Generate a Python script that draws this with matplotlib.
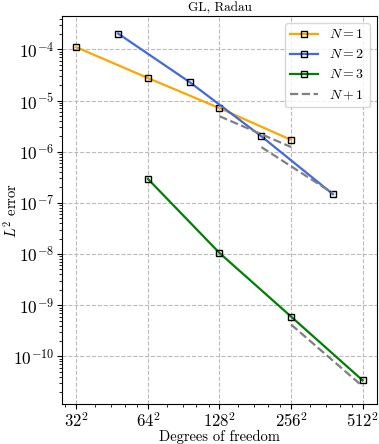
import matplotlib
matplotlib.use("Agg")
import matplotlib.pyplot as plt
from matplotlib.ticker import FixedLocator, LogLocator, NullFormatter

plt.rcParams['font.family'] = 'serif'
plt.rcParams['font.serif'] = ['cmr10', 'DejaVu Serif']
plt.rcParams['mathtext.fontset'] = 'cm'
plt.rcParams['axes.unicode_minus'] = False
plt.rcParams['axes.formatter.use_mathtext'] = True

# Data (x = sqrt of degrees of freedom)
n1_x = [32, 64, 128, 256]
n1_err = [1.1e-4, 2.75e-5, 7.1e-6, 1.7e-6]
n2_x = [48, 96, 192, 384]
n2_err = [2.03e-4, 2.28e-5, 2.0e-6, 1.48e-7]
n3_x = [64, 128, 256, 512]
n3_err = [2.94e-7, 1.05e-8, 6.0e-10, 3.4e-11]

# N+1 reference slopes
ref1_x = [128, 256]
ref1_y = [4.94e-6, 1.235e-6]
ref2_x = [192, 384]
ref2_y = [1.23e-6, 1.54e-7]
ref3_x = [256, 512]
ref3_y = [4.2e-10, 2.6e-11]

xticks = [32, 64, 128, 256, 512]
xticklabels = ['$32^2$', '$64^2$', '$128^2$', '$256^2$', '$512^2$']

fig = plt.figure(figsize=(3.79, 4.44), dpi=100)
ax = fig.add_axes([0.1636, 0.0901, 0.8311, 0.8739])

mk = dict(marker='s', markersize=5, mfc='none', mec='k', mew=1.0, lw=1.6)
ax.plot(n1_x, n1_err, color='orange', label='$N=1$', **mk)
ax.plot(n2_x, n2_err, color='royalblue', label='$N=2$', **mk)
ax.plot(n3_x, n3_err, color='green', label='$N=3$', **mk)
ax.plot(ref1_x, ref1_y, '--', color='gray', lw=1.6, label='$N+1$')
ax.plot(ref2_x, ref2_y, '--', color='gray', lw=1.6)
ax.plot(ref3_x, ref3_y, '--', color='gray', lw=1.6)

ax.set_xscale('log', base=2)
ax.set_yscale('log')
ax.xaxis.set_major_locator(FixedLocator(xticks))
ax.set_xticklabels(xticklabels)
ax.xaxis.set_minor_locator(LogLocator(base=2, subs=[1.2, 1.4, 1.6, 1.8]))
ax.xaxis.set_minor_formatter(NullFormatter())

ax.tick_params(axis='y', which='major', labelsize=12.5, pad=2)
ax.tick_params(axis='x', which='major', labelsize=12, pad=2)
ax.grid(True, which='major', linestyle='--', color='#bbbbbb', lw=0.8)
ax.set_axisbelow(True)

ax.set_title('GL, Radau', fontsize=9.5, pad=3)
ax.set_xlabel('Degrees of freedom', fontsize=10.5)
ax.set_ylabel('$L^2$ error', fontsize=10.5)
ax.xaxis.set_label_coords(0.5, -0.066)
ax.yaxis.set_label_coords(-0.135, 0.5)
ax.legend(loc='upper right', fontsize=10)

fig.savefig('out.png', dpi=100)
